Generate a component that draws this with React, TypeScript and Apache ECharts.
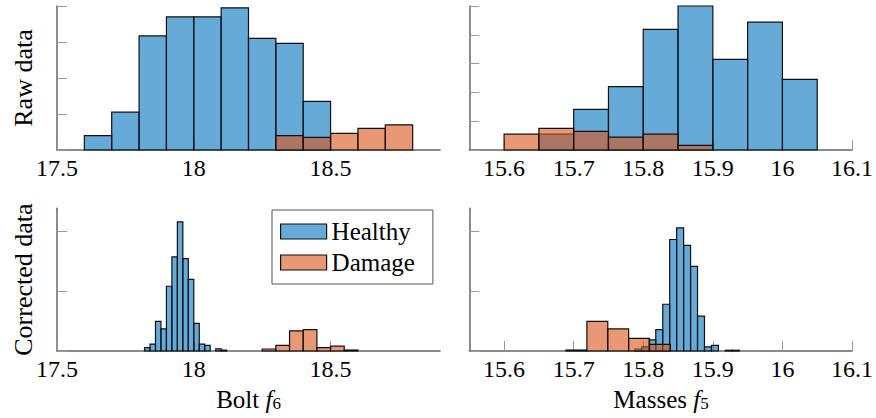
import React, { useEffect, useRef } from "react";
import * as echarts from "echarts";

// ---- data ----
// Top-left: raw data, bolt f6
const rawBoltHealthyStart = 17.6;
const rawBoltHealthyWidth = 0.1;
const rawBoltHealthy = [4, 10.5, 31.7, 37, 37, 39.5, 31, 29.6, 13.5];
const rawBoltDamageStart = 18.3;
const rawBoltDamageWidth = 0.1;
const rawBoltDamage = [4, 3.5, 4.6, 6, 7];

// Top-right: raw data, masses f5
const rawMassHealthyStart = 15.65;
const rawMassHealthyWidth = 0.05;
const rawMassHealthy = [5.5, 14.1, 22, 41.9, 50, 31.5, 44.4, 24.5];
const rawMassDamageStart = 15.6;
const rawMassDamageWidth = 0.05;
const rawMassDamage = [5.5, 7.5, 6.5, 4.5, 5.5, 1.6];

// Bottom-left: corrected data, bolt f6
const corBoltHealthyStart = 17.82;
const corBoltHealthyWidth = 0.02;
const corBoltHealthy = [1.1, 2.3, 9.9, 7.4, 21.6, 31.4, 43.1, 30.8, 23.9, 9.2, 2.3, 1.9, 0, 0.7, 0.3];
const corBoltDamageStart = 18.25;
const corBoltDamageWidth = 0.05;
const corBoltDamage = [0.67, 1.9, 6.7, 7.1, 1.1, 1.6, 0.33];

// Bottom-right: corrected data, masses f5
const corMassHealthyStart = 15.788;
const corMassHealthyWidth = 0.01;
const corMassHealthy = [0.67, 1.4, 3.7, 7.1, 15.6, 37.2, 41.1, 35.2, 28.2, 11.6, 1.4, 1.9, 0, 0.25, 0.25];
const corMassDamageStart = 15.689;
const corMassDamageWidth = 0.03;
const corMassDamage = [0.33, 9.9, 7.4, 4.2, 2.2];

// axes
const boltTicks = [17.5, 18, 18.5];
const massTicks = [15.6, 15.7, 15.8, 15.9, 16, 16.1];
const rawBoltYTicks = [0, 10, 20, 30, 40];
const rawMassYTicks = [0, 10, 20, 30, 40, 50];
const corYTicks = [0, 20, 40];

const BLUE = "rgba(0,114,189,0.6)";
const ORANGE = "rgba(217,83,25,0.6)";
const FONT = "Liberation Serif";

function bins(start: number, width: number, counts: number[]) {
  const out: number[][] = [];
  counts.forEach((c, i) => {
    if (c > 0) out.push([start + i * width, start + (i + 1) * width, c]);
  });
  return out;
}

function histSeries(name: string, idx: number, data: number[][], color: string, z: number) {
  return {
    type: "custom",
    name,
    xAxisIndex: idx,
    yAxisIndex: idx,
    z,
    itemStyle: { color },
    encode: { x: [0, 1], y: 2 },
    data,
    renderItem: (params: any, api: any) => {
      const p0 = api.coord([api.value(0), 0]);
      const p1 = api.coord([api.value(1), api.value(2)]);
      return {
        type: "rect",
        shape: { x: p0[0], y: p1[1], width: p1[0] - p0[0], height: p0[1] - p1[1] },
        style: { fill: color, stroke: "#111", lineWidth: 1.2 },
      };
    },
  };
}

const fmt = (v: number) => String(Number(Number(v).toFixed(2)));

function xAxis(idx: number, min: number, max: number, ticks: number[]) {
  return {
    type: "value",
    gridIndex: idx,
    min,
    max,
    axisLine: { show: true, onZero: false, lineStyle: { color: "#666", width: 1.5 } },
    axisTick: { show: true, inside: true, length: 10, customValues: ticks, lineStyle: { color: "#999", width: 1 } },
    axisLabel: { show: true, customValues: ticks, formatter: fmt, margin: 6, color: "#000", fontSize: 24, fontFamily: FONT },
    splitLine: { show: false },
  };
}

function yAxis(idx: number, max: number, ticks: number[]) {
  return {
    type: "value",
    gridIndex: idx,
    min: 0,
    max,
    axisLine: { show: true, lineStyle: { color: "#666", width: 1.5 } },
    axisTick: { show: true, inside: true, length: 10, customValues: ticks, lineStyle: { color: "#999", width: 1 } },
    axisLabel: { show: false },
    splitLine: { show: false },
  };
}

const sub = {
  a: { fontSize: 25, fontFamily: FONT, lineHeight: 30, verticalAlign: "bottom" },
  i: { fontSize: 25, fontFamily: FONT, fontStyle: "italic", lineHeight: 30, verticalAlign: "bottom" },
  s: { fontSize: 17, fontFamily: FONT, lineHeight: 22, verticalAlign: "bottom" },
};

export default function App() {
  const ref = useRef<HTMLDivElement>(null);
  useEffect(() => {
    document.body.style.margin = "0";
    if (!ref.current) return;
    const chart = echarts.init(ref.current, undefined, { renderer: "svg" });
    const option: any = {
      animation: false,
      backgroundColor: "#fff",
      textStyle: { fontFamily: FONT },
      grid: [
        { left: 57, top: 6, width: 383, height: 144 },
        { left: 469.3, top: 6, width: 384, height: 144 },
        { left: 57, top: 208.3, width: 383, height: 142.7 },
        { left: 469.3, top: 208.3, width: 384, height: 142.7 },
      ],
      xAxis: [
        xAxis(0, 17.5, 18.9, boltTicks),
        xAxis(1, 15.55, 16.1, massTicks),
        xAxis(2, 17.5, 18.9, boltTicks),
        xAxis(3, 15.55, 16.1, massTicks),
      ],
      yAxis: [
        yAxis(0, 40, rawBoltYTicks),
        yAxis(1, 50, rawMassYTicks),
        yAxis(2, 47.6, corYTicks),
        yAxis(3, 47.6, corYTicks),
      ],
      legend: {
        left: 272,
        top: 210,
        orient: "vertical",
        padding: [9, 18, 9, 8],
        itemGap: 6,
        itemWidth: 46,
        itemHeight: 15,
        borderColor: "#555",
        borderWidth: 1,
        backgroundColor: "#fff",
        selectedMode: false,
        textStyle: { fontSize: 25, fontFamily: FONT, color: "#000" },
        data: [
          { name: "Healthy", icon: "rect", itemStyle: { color: BLUE, borderColor: "#111", borderWidth: 1.2 } },
          { name: "Damage", icon: "rect", itemStyle: { color: ORANGE, borderColor: "#111", borderWidth: 1.2 } },
        ],
      },
      graphic: [
        { type: "text", x: 23, y: 78, rotation: Math.PI / 2, style: { text: "Raw data", fontSize: 26, fontFamily: FONT, fill: "#000", align: "center", verticalAlign: "middle" } },
        { type: "text", x: 23, y: 279.6, rotation: Math.PI / 2, style: { text: "Corrected data", fontSize: 26, fontFamily: FONT, fill: "#000", align: "center", verticalAlign: "middle" } },
        { type: "text", x: 248.5, y: 397, style: { text: "{a|Bolt }{i|f}{s|6}", align: "center", verticalAlign: "middle", fontSize: 25, fontFamily: FONT, fill: "#000", rich: sub } },
        { type: "text", x: 661, y: 397, style: { text: "{a|Masses }{i|f}{s|5}", align: "center", verticalAlign: "middle", fontSize: 25, fontFamily: FONT, fill: "#000", rich: sub } },
      ],
      series: [
        histSeries("Healthy", 0, bins(rawBoltHealthyStart, rawBoltHealthyWidth, rawBoltHealthy), BLUE, 2),
        histSeries("Damage", 0, bins(rawBoltDamageStart, rawBoltDamageWidth, rawBoltDamage), ORANGE, 3),
        histSeries("Healthy", 1, bins(rawMassHealthyStart, rawMassHealthyWidth, rawMassHealthy), BLUE, 2),
        histSeries("Damage", 1, bins(rawMassDamageStart, rawMassDamageWidth, rawMassDamage), ORANGE, 3),
        histSeries("Healthy", 2, bins(corBoltHealthyStart, corBoltHealthyWidth, corBoltHealthy), BLUE, 2),
        histSeries("Damage", 2, bins(corBoltDamageStart, corBoltDamageWidth, corBoltDamage), ORANGE, 3),
        histSeries("Healthy", 3, bins(corMassHealthyStart, corMassHealthyWidth, corMassHealthy), BLUE, 2),
        histSeries("Damage", 3, bins(corMassDamageStart, corMassDamageWidth, corMassDamage), ORANGE, 3),
      ],
    };
    chart.setOption(option);
    return () => chart.dispose();
  }, []);
  return <div ref={ref} style={{ width: 876, height: 418 }} />;
}
